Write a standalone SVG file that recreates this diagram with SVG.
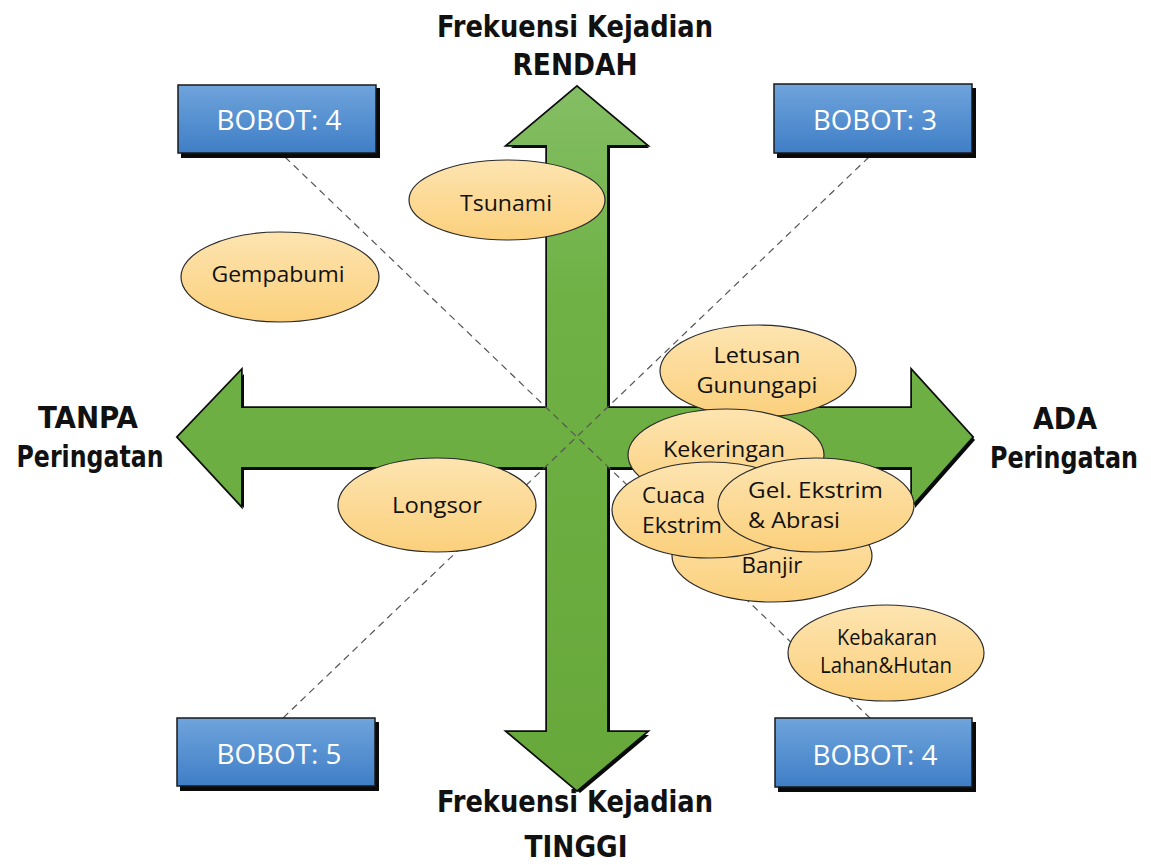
<svg xmlns="http://www.w3.org/2000/svg" width="1151" height="865" viewBox="0 0 1151 865">
<defs>
<linearGradient id="gGreen" gradientUnits="userSpaceOnUse" x1="0" y1="87" x2="0" y2="790">
<stop offset="0" stop-color="#84be64"/>
<stop offset="0.3" stop-color="#6fb145"/>
<stop offset="1" stop-color="#68a83b"/>
</linearGradient>
<linearGradient id="gBlue" x1="0" y1="0" x2="0" y2="1">
<stop offset="0" stop-color="#6fa4dc"/>
<stop offset="1" stop-color="#3f7ec6"/>
</linearGradient>
<linearGradient id="gOrange" x1="0" y1="0" x2="0" y2="1">
<stop offset="0" stop-color="#fde4b0"/>
<stop offset="1" stop-color="#fbd07c"/>
</linearGradient>
<path id="cross" d="M577,87 L646,145 L607,145 L607,408 L912,408 L912,371 L972,437 L912,505 L912,467 L607,467 L607,732 L646,732 L577,790 L508,732 L547,732 L547,467 L241,467 L241,505 L178,437 L241,371 L241,408 L547,408 L547,145 L508,145 Z"/>
</defs>
<style>
.axis{font-family:"DejaVu Sans Condensed","DejaVu Sans",sans-serif;font-weight:bold;font-size:30px;fill:#111;text-anchor:middle}
.box{fill:url(#gBlue);stroke:#1a1a1a;stroke-width:1.5}
.shadow{fill:#0a0a0a}
.boxtxt{font-family:"Open Sans","Liberation Sans",sans-serif;font-size:28px;fill:#fff;text-anchor:middle}
.ell{fill:url(#gOrange);stroke:#2a2a2a;stroke-width:1.2}
.et{font-family:"Open Sans","Liberation Sans",sans-serif;font-size:22px;fill:#111}
.mid{text-anchor:middle}
.dash{stroke:#555;stroke-width:1.2;stroke-dasharray:7,5;fill:none}
</style>
<rect width="1151" height="865" fill="#fff"/>

<g id="axes-arrows">
<use href="#cross" transform="translate(3,3)" fill="#0a0a0a"/>
<use href="#cross" fill="url(#gGreen)" stroke="#0d0d0d" stroke-width="3.5" stroke-linejoin="miter"/>
<use href="#cross" fill="url(#gGreen)"/>
</g>

<g id="connectors">
<line class="dash" x1="285" y1="157" x2="870" y2="718"/>
<line class="dash" x1="869" y1="157" x2="283" y2="718"/>
</g>

<g id="axis-labels">
<text class="axis" x="575" y="37" textLength="276" lengthAdjust="spacingAndGlyphs">Frekuensi Kejadian</text>
<text class="axis" x="575" y="75" textLength="125" lengthAdjust="spacingAndGlyphs">RENDAH</text>
<text class="axis" x="575" y="812" textLength="276" lengthAdjust="spacingAndGlyphs">Frekuensi Kejadian</text>
<text class="axis" x="576" y="857" textLength="103" lengthAdjust="spacingAndGlyphs">TINGGI</text>
<text class="axis" x="88" y="428" textLength="100" lengthAdjust="spacingAndGlyphs">TANPA</text>
<text class="axis" x="90" y="467" textLength="147" lengthAdjust="spacingAndGlyphs">Peringatan</text>
<text class="axis" x="1065" y="429" textLength="64" lengthAdjust="spacingAndGlyphs">ADA</text>
<text class="axis" x="990" y="468" font-size="26" text-anchor="start" style="text-anchor:start" textLength="148" lengthAdjust="spacingAndGlyphs">Peringatan</text>
</g>

<g id="node-tsunami">
<ellipse class="ell" cx="507" cy="200" rx="98" ry="40"/>
<text class="et mid" x="506" y="211" textLength="92" lengthAdjust="spacingAndGlyphs">Tsunami</text>
</g>
<g id="node-gempabumi">
<ellipse class="ell" cx="280" cy="277" rx="99" ry="45"/>
<text class="et mid" x="278" y="282" textLength="133" lengthAdjust="spacingAndGlyphs">Gempabumi</text>
</g>
<g id="node-longsor">
<ellipse class="ell" cx="437" cy="505" rx="99" ry="47"/>
<text class="et mid" x="437" y="513" textLength="90" lengthAdjust="spacingAndGlyphs">Longsor</text>
</g>
<g id="node-letusan">
<ellipse class="ell" cx="758" cy="371" rx="98" ry="46"/>
<text class="et mid" x="757" y="363" textLength="87" lengthAdjust="spacingAndGlyphs">Letusan</text>
<text class="et mid" x="757" y="393" textLength="121" lengthAdjust="spacingAndGlyphs">Gunungapi</text>
</g>
<g id="node-kekeringan">
<ellipse class="ell" cx="726" cy="455" rx="98" ry="46"/>
<text class="et mid" x="724" y="457" textLength="122" lengthAdjust="spacingAndGlyphs">Kekeringan</text>
</g>
<g id="node-banjir">
<ellipse class="ell" cx="772" cy="556" rx="100" ry="46"/>
<text class="et mid" x="772" y="573" textLength="61" lengthAdjust="spacingAndGlyphs">Banjir</text>
</g>
<g id="node-cuaca">
<ellipse class="ell" cx="710" cy="510" rx="98" ry="48"/>
<text class="et" x="642" y="503" textLength="63" lengthAdjust="spacingAndGlyphs">Cuaca</text>
<text class="et" x="642" y="533" textLength="80" lengthAdjust="spacingAndGlyphs">Ekstrim</text>
</g>
<g id="node-gelombang">
<ellipse class="ell" cx="816" cy="505" rx="98" ry="47"/>
<text class="et" x="748" y="498" textLength="135" lengthAdjust="spacingAndGlyphs">Gel. Ekstrim</text>
<text class="et" x="748" y="528" textLength="92" lengthAdjust="spacingAndGlyphs">&amp; Abrasi</text>
</g>
<g id="node-kebakaran">
<ellipse class="ell" cx="886" cy="653" rx="98" ry="48"/>
<text class="et mid" x="887" y="645" font-size="17" textLength="100" lengthAdjust="spacingAndGlyphs">Kebakaran</text>
<text class="et mid" x="886" y="673" font-size="17" textLength="132" lengthAdjust="spacingAndGlyphs">Lahan&amp;Hutan</text>
</g>

<g id="box-bobot4-top">
<rect class="shadow" x="181" y="88" width="199" height="70"/>
<rect class="box" x="178" y="85" width="198" height="68"/>
<text class="boxtxt" x="279" y="130" textLength="125" lengthAdjust="spacingAndGlyphs">BOBOT: 4</text>
</g>
<g id="box-bobot3">
<rect class="shadow" x="777" y="88" width="199" height="70"/>
<rect class="box" x="774" y="84" width="198" height="69"/>
<text class="boxtxt" x="875" y="130" textLength="124" lengthAdjust="spacingAndGlyphs">BOBOT: 3</text>
</g>
<g id="box-bobot5">
<rect class="shadow" x="180" y="722" width="199" height="69"/>
<rect class="box" x="177" y="718" width="198" height="68"/>
<text class="boxtxt" x="279" y="764" textLength="125" lengthAdjust="spacingAndGlyphs">BOBOT: 5</text>
</g>
<g id="box-bobot4-bottom">
<rect class="shadow" x="778" y="722" width="198" height="70"/>
<rect class="box" x="775" y="718" width="197" height="69"/>
<text class="boxtxt" x="875" y="765" textLength="125" lengthAdjust="spacingAndGlyphs">BOBOT: 4</text>
</g>
</svg>
